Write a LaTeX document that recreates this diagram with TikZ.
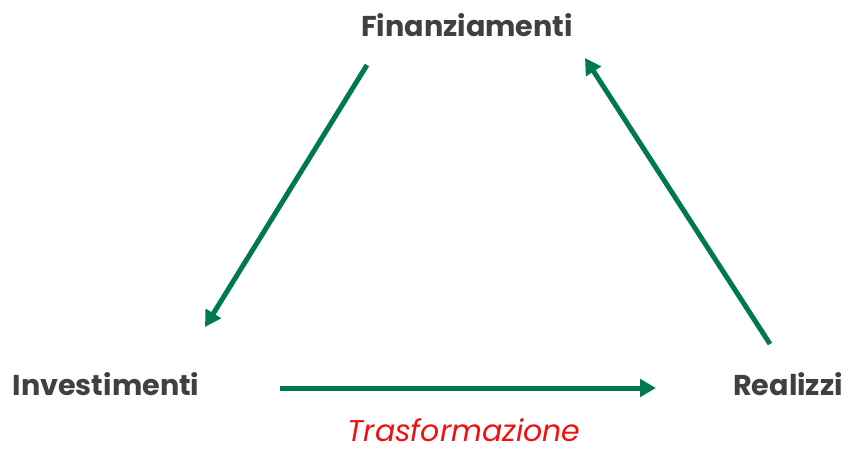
\documentclass[tikz,border=0pt]{standalone}
\usepackage{fontspec}
\setmainfont{Poppins}
\usepackage{xcolor}
\usetikzlibrary{arrows.meta}
\definecolor{flowgreen}{HTML}{007A4C}
\definecolor{labelgray}{HTML}{404040}
\definecolor{notered}{HTML}{F01010}

\begin{document}
\begin{tikzpicture}[
  x=0.75pt, y=-0.75pt,
  phase/.style={font=\fontsize{21.5}{25}\selectfont\bfseries, text=labelgray, inner sep=0pt},
  note/.style={font=\fontsize{22.5}{26}\selectfont\itshape, text=notered, inner sep=0pt},
  flow/.style={-{Triangle[length=12pt,width=13pt]}, line width=3.75pt, draw=flowgreen}
]
\useasboundingbox (0,0) rectangle (849,449);

\node[phase] (fin) at (467,25) {Finanziamenti};
\node[phase] (inv) at (106,384) {Investimenti};
\node[phase] (rea) at (788,384) {Realizzi};
\node[note] (tra) at (464,430) {Trasformazione};

\coordinate (fin-out) at (367,65);
\coordinate (inv-in) at (205,327);
\coordinate (inv-out) at (280,388);
\coordinate (rea-in) at (656,388);
\coordinate (rea-out) at (770,344);
\coordinate (fin-in) at (585,58);

\draw[flow] (fin-out) -- (inv-in);
\draw[flow] (inv-out) -- (rea-in);
\draw[flow] (rea-out) -- (fin-in);
\end{tikzpicture}
\end{document}
